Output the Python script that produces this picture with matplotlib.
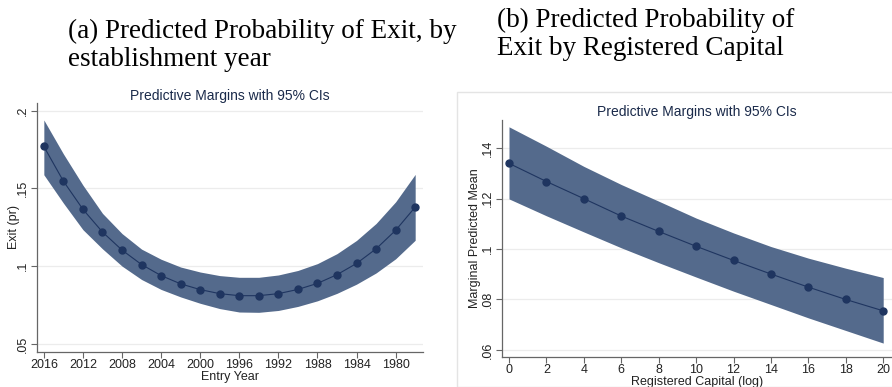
import numpy as np
import matplotlib.pyplot as plt
from matplotlib.patches import Rectangle

# predicted probability of exit by entry year (margins with 95% CI)
entry_year = [2016, 2014, 2012, 2010, 2008, 2006, 2004, 2002, 2000, 1998,
              1996, 1994, 1992, 1990, 1988, 1986, 1984, 1982, 1980, 1978]
exit_margin = [0.177, 0.1547, 0.1366, 0.122, 0.1104, 0.1011, 0.094, 0.0887, 0.085, 0.0824,
               0.0811, 0.0811, 0.0824, 0.0851, 0.089, 0.0946, 0.1018, 0.1112, 0.1231, 0.138]
exit_upper = [0.194, 0.1722, 0.1521, 0.134, 0.121, 0.111, 0.1045, 0.0995, 0.0963, 0.094,
              0.0929, 0.0929, 0.0944, 0.0973, 0.1017, 0.1081, 0.1166, 0.1275, 0.1414, 0.159]
exit_lower = [0.1588, 0.1406, 0.1235, 0.1112, 0.1001, 0.0915, 0.0851, 0.0803, 0.0762, 0.0728,
              0.0706, 0.0704, 0.0716, 0.0742, 0.0778, 0.0826, 0.0885, 0.0957, 0.1048, 0.1167]
year_ticks = [2016, 2012, 2008, 2004, 2000, 1996, 1992, 1988, 1984, 1980]
exit_yticks = [0.05, 0.1, 0.15, 0.2]
exit_ylabels = [".05", ".1", ".15", ".2"]

# predicted probability of exit by registered capital (log)
reg_capital = [0, 2, 4, 6, 8, 10, 12, 14, 16, 18, 20]
cap_margin = [0.134, 0.1268, 0.12, 0.1131, 0.107, 0.1011, 0.0955, 0.0901, 0.0849, 0.08, 0.0755]
cap_upper = [0.1485, 0.1408, 0.1328, 0.1256, 0.119, 0.1123, 0.1064, 0.101, 0.0964, 0.0924, 0.0887]
cap_lower = [0.1199, 0.1132, 0.1068, 0.1005, 0.0946, 0.0889, 0.0833, 0.078, 0.0727, 0.0677, 0.0627]
cap_yticks = [0.06, 0.08, 0.1, 0.12, 0.14]
cap_ylabels = [".06", ".08", ".1", ".12", ".14"]

band_col = "#546a8c"
line_col = "#1f3560"
title_col = "#1a2a4a"
axis_col = "#666666"
text_col = "#222222"

plt.rcParams["font.family"] = ["Liberation Sans", "DejaVu Sans"]

fig = plt.figure(figsize=(8.92, 3.87), dpi=100)

# faint outer frame of the second graph
fig.patches.append(Rectangle((457 / 892, 0), 1, 1 - 92 / 387, transform=fig.transFigure,
                             facecolor="none", edgecolor="#e4e4e4", lw=1))


def style_axes(ax, yticks, ylabels):
    ax.set_yticks(yticks)
    ax.set_yticklabels(ylabels, rotation=90, va="center")
    for s in ("top", "right"):
        ax.spines[s].set_visible(False)
    for s in ("left", "bottom"):
        ax.spines[s].set_color(axis_col)
        ax.spines[s].set_linewidth(0.9)
    ax.tick_params(colors=axis_col, labelcolor=text_col, labelsize=9, length=4, width=0.8, pad=1.5)
    ax.yaxis.grid(True, color="#ececec", lw=0.9)
    ax.set_axisbelow(True)


# (a) by entry year
ax1 = fig.add_axes([37 / 892, 1 - 351.7 / 387, 386 / 892, 248.7 / 387])
ax1.fill_between(entry_year, exit_lower, exit_upper, color=band_col, lw=0)
ax1.plot(entry_year, exit_margin, color=line_col, lw=0.8, marker="o", ms=5)
ax1.set_xlim(2016.7, 1977.2)
ax1.set_ylim(0.0451, 0.2049)
ax1.set_xticks(year_ticks)
style_axes(ax1, exit_yticks, exit_ylabels)
ax1.set_xlabel("Entry Year", fontsize=9, labelpad=0, color=text_col)
ax1.set_ylabel("Exit (pr)", fontsize=9, labelpad=-2, color=text_col)
ax1.set_title("Predictive Margins with 95% CIs", fontsize=10, color=title_col, pad=1)

# (b) by registered capital
ax2 = fig.add_axes([501.7 / 892, 1 - 356.7 / 387, 390.3 / 892, 236.7 / 387])
ax2.fill_between(reg_capital, cap_lower, cap_upper, color=band_col, lw=0)
ax2.plot(reg_capital, cap_margin, color=line_col, lw=0.8, marker="o", ms=5)
ax2.set_xlim(-0.39, 20.47)
ax2.set_ylim(0.0573, 0.1512)
ax2.set_xticks(reg_capital)
style_axes(ax2, cap_yticks, cap_ylabels)
ax2.set_xlabel("Registered Capital (log)", fontsize=9, labelpad=0, color=text_col)
ax2.set_ylabel("Marginal Predicted Mean", fontsize=9, labelpad=0.5, color=text_col)
ax2.set_title("Predictive Margins with 95% CIs", fontsize=10, color=title_col, pad=3)

# panel captions
serif = ["Liberation Serif", "DejaVu Serif"]
fig.text(68 / 892, 1 - 19 / 387, "(a) Predicted Probability of Exit, by\nestablishment year",
         family=serif, fontsize=19.5, va="top", ha="left", linespacing=1.15)
fig.text(497 / 892, 1 - 8 / 387, "(b) Predicted Probability of\nExit by Registered Capital",
         family=serif, fontsize=19.5, va="top", ha="left", linespacing=1.15)

fig.savefig("out.png", dpi=100)
